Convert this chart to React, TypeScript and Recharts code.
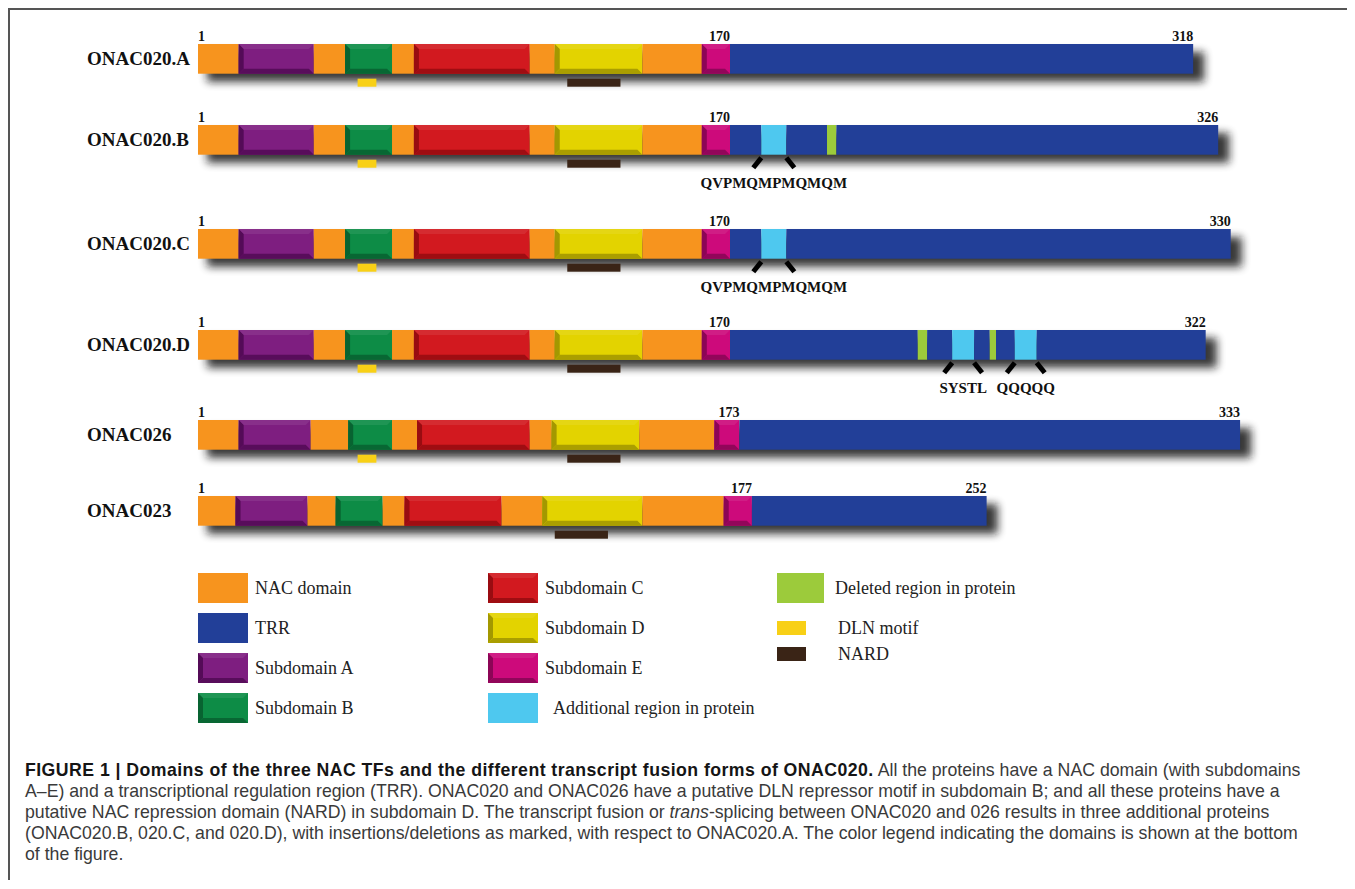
import React from "react";
import { BarChart, Bar, XAxis, YAxis } from "recharts";

// proteins, top to bottom
const proteins = ["ONAC020.A", "ONAC020.B", "ONAC020.C", "ONAC020.D", "ONAC026", "ONAC023"];

// NAC domain: residue where each block ends
const nacKinds = ["NAC", "A", "NAC", "B", "NAC", "C", "NAC", "D", "NAC", "E"];
const nac020 = [13, 37, 47, 62, 69, 106, 114, 142, 161, 170];
const nac026 = [13, 36, 48, 62, 70, 106, 113, 141, 165, 173];
const nac023 = [12, 35, 44, 59, 66, 97, 110, 142, 168, 177];

// TRR part, with insertions (ADD) and deletions (DEL)
const trrKinds020A = ["TRR"];
const trr020A = [318];
const trrKinds020B = ["TRR", "ADD", "TRR", "DEL", "TRR"];
const trr020B = [180, 188, 201, 204, 326];
const trrKinds020C = ["TRR", "ADD", "TRR"];
const trr020C = [180, 188, 330];
const trrKinds020D = ["TRR", "DEL", "TRR", "ADD", "TRR", "DEL", "TRR", "ADD", "TRR"];
const trr020D = [230, 233, 241, 248, 253, 255, 261, 268, 322];
const trrKinds026 = ["TRR"];
const trr026 = [333];
const trrKinds023 = ["TRR"];
const trr023 = [252];

// motifs under the bars
const dlnSites = [[51, 57], [51, 57], [51, 57], [51, 57], [51, 57], null];
const nardSites = [[118, 135], [118, 135], [118, 135], [118, 135], [118, 135], [114, 131]];
const insertLabels = [[], ["QVPMQMPMQMQM"], ["QVPMQMPMQMQM"], ["SYSTL", "QQQQQ"], [], []];

// legend
const legendKinds = ["NAC", "TRR", "A", "B", "C", "D", "E", "ADD", "DEL", "DLN", "NARD"];
const legendLabels = [
  "NAC domain", "TRR", "Subdomain A", "Subdomain B", "Subdomain C", "Subdomain D",
  "Subdomain E", "Additional region in protein", "Deleted region in protein", "DLN motif", "NARD",
];

const COLORS: Record<string, string[]> = {
  NAC: ["#F7941E"],
  TRR: ["#223F98"],
  A: ["#7E1E80", "#540B57"],
  B: ["#0D8C46", "#086331"],
  C: ["#D2191F", "#990C11"],
  D: ["#E3D300", "#A39800"],
  E: ["#CD0A7B", "#8C0556"],
  ADD: ["#4EC8EF"],
  DEL: ["#9CCB3B"],
  DLN: ["#F8D016"],
  NARD: ["#3A2416"],
};

const SERIF = "'Liberation Serif', 'Times New Roman', serif";
const SANS = "'Liberation Sans', Arial, Helvetica, sans-serif";

const nacBounds = [nac020, nac020, nac020, nac020, nac026, nac023];
const trrBounds = [trr020A, trr020B, trr020C, trr020D, trr026, trr023];
const trrKinds = [trrKinds020A, trrKinds020B, trrKinds020C, trrKinds020D, trrKinds026, trrKinds023];

const rows = proteins.map((name, i) => {
  const ends = [...nacBounds[i], ...trrBounds[i]];
  const kinds = [...nacKinds, ...trrKinds[i]];
  const segs = ends.map((end, j) => ({ kind: kinds[j], start: j ? ends[j - 1] : 0, end }));
  const datum: Record<string, any> = { name, total: ends[ends.length - 1] };
  segs.forEach((s, j) => (datum[`s${j}`] = s.end - s.start));
  return {
    name,
    segs,
    datum,
    nacEnd: nacBounds[i][nacBounds[i].length - 1],
    dln: dlnSites[i],
    nard: nardSites[i],
    inserts: segs.filter((s) => s.kind === "ADD").map((s, k) => ({ ...s, label: insertLabels[i][k] })),
  };
});

// layout of the six tracks (top of each chart inside the frame)
const ROW_TOPS = [2, 83, 187, 288, 378, 454];
const BAR_H = 33;
const PLOT_LEFT = 188;

function Block({ x, y, width, height, kind }: any) {
  const [fill, dark] = COLORS[kind];
  const b = 5;
  if (!dark) return <rect x={x} y={y} width={width} height={height} fill={fill} />;
  return (
    <g>
      <rect x={x} y={y} width={width} height={height} fill={fill} />
      <polygon points={`${x},${y} ${x + b},${y + b} ${x + b},${y + height - b} ${x},${y + height}`} fill={dark} />
      <polygon
        points={`${x},${y + height} ${x + b},${y + height - b} ${x + width - b},${y + height - b} ${x + width},${y + height}`}
        fill={dark}
        opacity={0.9}
      />
      <polygon points={`${x},${y} ${x + width},${y} ${x + width - b},${y + b} ${x + b},${y + b}`} fill="#fff" opacity={0.08} />
    </g>
  );
}

function FirstBlock(props: any) {
  const { x, y, width, height, payload, row, idx } = props;
  const k = width / payload.s0; // px per residue, from the axis scale
  const px = (aa: number) => x + aa * k;
  const bottom = y + height;
  const numStyle = { fontFamily: SERIF, fontWeight: 700, fontSize: 14, fill: "#111" };
  return (
    <g>
      <defs>
        <filter id={`shadow${idx}`} x="-5%" y="-60%" width="110%" height="220%">
          <feGaussianBlur stdDeviation="4.5" />
        </filter>
      </defs>
      <rect x={x + 9} y={y + 8} width={payload.total * k + 2} height={height} fill="#141414" opacity={0.85} filter={`url(#shadow${idx})`} />
      <Block x={x} y={y} width={width} height={height} kind={row.segs[0].kind} />
      <text x={x} y={y - 3} {...numStyle}>1</text>
      <text x={px(row.nacEnd)} y={y - 3} textAnchor="end" {...numStyle}>{row.nacEnd}</text>
      <text x={px(payload.total)} y={y - 3} textAnchor="end" {...numStyle}>{payload.total}</text>
      {row.dln && (
        <rect x={px(row.dln[0])} y={bottom + 5} width={(row.dln[1] - row.dln[0]) * k} height={8} fill={COLORS.DLN[0]} />
      )}
      {row.nard && (
        <rect x={px(row.nard[0])} y={bottom + 5} width={(row.nard[1] - row.nard[0]) * k} height={8} fill={COLORS.NARD[0]} />
      )}
      {row.inserts.map((ins: any, n: number) => (
        <g key={n}>
          <line x1={px(ins.start)} y1={bottom + 3} x2={px(ins.start) - 8} y2={bottom + 13} stroke="#000" strokeWidth={5} />
          <line x1={px(ins.end)} y1={bottom + 3} x2={px(ins.end) + 8} y2={bottom + 13} stroke="#000" strokeWidth={5} />
          <text x={px((ins.start + ins.end) / 2)} y={bottom + 33} textAnchor="middle" fontFamily={SERIF} fontWeight={700} fontSize={15} fill="#111">
            {ins.label}
          </text>
        </g>
      ))}
    </g>
  );
}

function NameTick({ y, payload }: any) {
  return (
    <text x={77} y={y} dy="0.35em" fontFamily={SERIF} fontWeight={700} fontSize={19} fill="#111">
      {payload.value}
    </text>
  );
}

function ProteinRow({ row, idx }: any) {
  return (
    <div style={{ position: "absolute", left: 0, top: ROW_TOPS[idx] }}>
      <BarChart
        width={1252}
        height={30 + BAR_H + 63}
        data={[row.datum]}
        layout="vertical"
        margin={{ top: 30, right: 0, bottom: 63, left: 0 }}
        barCategoryGap={0}
      >
        <XAxis type="number" domain={[0, 340]} hide />
        <YAxis type="category" dataKey="name" width={PLOT_LEFT} axisLine={false} tickLine={false} tick={<NameTick />} />
        {row.segs.map((s: any, j: number) => (
          <Bar
            key={j}
            dataKey={`s${j}`}
            stackId="p"
            barSize={BAR_H}
            fill={COLORS[s.kind][0]}
            isAnimationActive={false}
            shape={(p: any) =>
              j === 0 ? <FirstBlock {...p} row={row} idx={idx} /> : <Block {...p} kind={s.kind} />
            }
          />
        ))}
      </BarChart>
    </div>
  );
}

// legend placement (left, top) inside the frame
const LEGEND_POS = [
  [188, 563], [188, 603], [188, 643], [188, 683],
  [478, 563], [478, 603], [478, 643], [478, 683],
  [767, 563], [767, 603], [767, 629],
];

function Swatch({ kind }: { kind: string }) {
  const small = kind === "DLN" || kind === "NARD";
  const w = small ? 29 : kind === "DEL" ? 47 : 50;
  const h = small ? 14 : 30;
  return (
    <svg width={w} height={h} style={{ display: "block", flex: "none" }}>
      <Block x={0} y={0} width={w} height={h} kind={kind} />
    </svg>
  );
}

function Legend() {
  return (
    <>
      {legendKinds.map((kind, i) => {
        const small = kind === "DLN" || kind === "NARD";
        const gap = small ? 32 : kind === "ADD" ? 15 : kind === "DEL" ? 11 : 7;
        return (
          <div
            key={kind}
            style={{
              position: "absolute",
              left: LEGEND_POS[i][0],
              top: LEGEND_POS[i][1],
              height: 30,
              display: "flex",
              alignItems: "center",
              fontFamily: SERIF,
              fontSize: 18,
              color: "#222",
              whiteSpace: "nowrap",
            }}
          >
            <Swatch kind={kind} />
            <span style={{ marginLeft: gap }}>{legendLabels[i]}</span>
          </div>
        );
      })}
    </>
  );
}

function Caption() {
  const line = { whiteSpace: "nowrap" as const, height: 21 };
  return (
    <div
      style={{
        position: "absolute",
        left: 15,
        top: 750,
        fontFamily: SANS,
        fontSize: 17.7,
        lineHeight: "21px",
        color: "#3a3a3a",
      }}
    >
      <div style={line}>
        <b style={{ color: "#151515", letterSpacing: 0.45 }}>
          FIGURE 1 | Domains of the three NAC TFs and the different transcript fusion forms of ONAC020.
        </b>{" "}
        All the proteins have a NAC domain (with subdomains
      </div>
      <div style={line}>
        A–E) and a transcriptional regulation region (TRR). ONAC020 and ONAC026 have a putative DLN repressor motif in subdomain B; and all these proteins have a
      </div>
      <div style={line}>
        putative NAC repression domain (NARD) in subdomain D. The transcript fusion or <i>trans</i>-splicing between ONAC020 and 026 results in three additional proteins
      </div>
      <div style={line}>
        (ONAC020.B, 020.C, and 020.D), with insertions/deletions as marked, with respect to ONAC020.A. The color legend indicating the domains is shown at the bottom
      </div>
      <div style={line}>of the figure.</div>
    </div>
  );
}

export default function App() {
  return (
    <div
      style={{
        position: "relative",
        width: 1345,
        height: 870,
        borderTop: "2px solid #555",
        borderLeft: "2px solid #555",
        background: "#fff",
        overflow: "hidden",
      }}
    >
      {rows.map((row, i) => (
        <ProteinRow key={row.name} row={row} idx={i} />
      ))}
      <Legend />
      <Caption />
    </div>
  );
}
